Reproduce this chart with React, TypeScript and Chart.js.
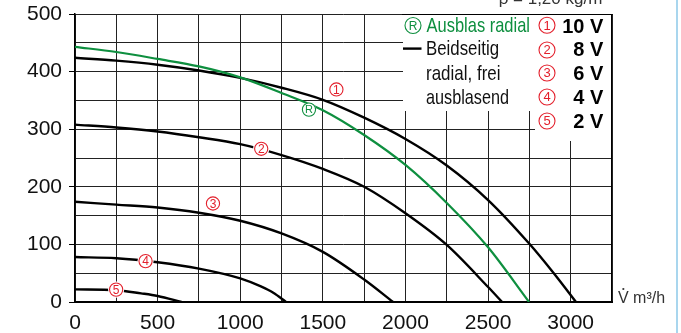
import React, { useEffect, useRef } from "react";
import { Chart, registerables } from "chart.js";
Chart.register(...registerables);

// Volumenstrom (m³/h) und Druck (Pa) je Kennlinie
const flow10 = [0, 250, 500, 750, 1000, 1250, 1500, 1750, 2000, 2250, 2500, 2750, 2900, 3032];
const p10 = [424, 419, 412, 402, 389, 372, 351, 320, 283, 237, 177, 101, 49, 0];
const flow8 = [0, 250, 500, 750, 1000, 1250, 1500, 1750, 2000, 2250, 2500, 2585];
const p8 = [308, 303, 296, 286, 274, 255, 231, 200, 154, 99, 26, 0];
const flow6 = [0, 250, 500, 750, 1000, 1250, 1500, 1750, 1925];
const p6 = [174, 169, 164, 155, 141, 119, 87, 39, 0];
const flow4 = [0, 250, 500, 750, 1000, 1125, 1200, 1277];
const p4 = [78, 76, 69, 58, 41, 27, 16, 0];
const flow2 = [0, 250, 400, 500, 645];
const p2 = [22, 20.5, 15, 10.5, 0];
const flowR = [0, 250, 500, 750, 1000, 1250, 1500, 1750, 2000, 2250, 2500, 2748];
const pR = [443, 434, 422, 409, 390, 363, 333, 290, 238, 172, 95, 0];

// Kurvenmarken
const markTexts = ["1", "2", "3", "4", "5"];
const markFlow = [1582, 1127, 835, 427, 249];
const markP = [369, 266, 171, 71, 21.5];
const markRFlow = 1416;
const markRP = 334;

// Legende
const voltages = ["10 V", "8 V", "6 V", "4 V", "2 V"];
const legendGreen = "Ausblas radial";
const legendBlack = ["Beidseitig", "radial, frei", "ausblasend"];
const densityText = "ρ = 1,20 kg/m³";
const xTitle = "V m³/h";

const xMax = 3250;
const yMax = 500;

const RED = "#e3202c";
const GREEN = "#0e8f3f";
const FONT = "'Liberation Sans', Arial, sans-serif";

function pts(f: number[], p: number[]) {
  return f.map((v, i) => ({ x: v, y: p[i] }));
}

function circled(ctx: CanvasRenderingContext2D, cx: number, cy: number, r: number, txt: string, color: string, size: number, gap: number) {
  ctx.fillStyle = "#fff";
  ctx.beginPath();
  ctx.arc(cx, cy, r + gap, 0, Math.PI * 2);
  ctx.fill();
  ctx.strokeStyle = color;
  ctx.lineWidth = 1.1;
  ctx.beginPath();
  ctx.arc(cx, cy, r, 0, Math.PI * 2);
  ctx.stroke();
  ctx.fillStyle = color;
  ctx.font = `${size}px ${FONT}`;
  ctx.textAlign = "center";
  ctx.textBaseline = "middle";
  ctx.fillText(txt, cx, cy + 0.8);
}

const overlay = {
  id: "overlay",
  afterDatasetsDraw(chart: any) {
    const { ctx, chartArea: a, scales } = chart;
    const x = scales.x;
    const y = scales.y;
    ctx.save();
    // white legend box
    ctx.fillStyle = "#fff";
    ctx.fillRect(a.right - 209, a.top + 1, 208, 96);
    ctx.fillRect(a.right - 77, a.top + 1, 76, 126);

    // curve marks
    for (let i = 0; i < markTexts.length; i++) {
      circled(ctx, x.getPixelForValue(markFlow[i]), y.getPixelForValue(markP[i]), 6.6, markTexts[i], RED, 12, 1.5);
    }
    circled(ctx, x.getPixelForValue(markRFlow), y.getPixelForValue(markRP), 6.6, "R", GREEN, 11, 0.5);

    // legend left column
    const L = a.right - 209;
    const T = a.top;
    circled(ctx, L + 10, T + 11.5, 8, "R", GREEN, 12, 0);
    ctx.textAlign = "left";
    ctx.textBaseline = "alphabetic";
    ctx.fillStyle = GREEN;
    ctx.font = `21px ${FONT}`;
    ctx.fillText(legendGreen, L + 23.5, T + 18, 103.5);
    ctx.strokeStyle = "#000";
    ctx.lineWidth = 2.4;
    ctx.beginPath();
    ctx.moveTo(L, T + 34.6);
    ctx.lineTo(L + 18.5, T + 34.6);
    ctx.stroke();
    ctx.fillStyle = "#111";
    const widths = [73, 74.5, 83];
    const bases = [41.3, 65.6, 89.6];
    for (let i = 0; i < legendBlack.length; i++) {
      ctx.fillText(legendBlack[i], L + 23, T + bases[i], widths[i]);
    }

    // legend right column
    const cyList = [11.3, 36, 59, 83, 107];
    const baseList = [18.6, 42, 66.3, 89.6, 114];
    for (let i = 0; i < voltages.length; i++) {
      circled(ctx, a.right - 65, T + cyList[i], 8, markTexts[i], RED, 13, 0);
      ctx.fillStyle = "#000";
      ctx.font = `bold 20px ${FONT}`;
      ctx.textAlign = "right";
      ctx.textBaseline = "alphabetic";
      ctx.fillText(voltages[i], a.right - 8.7, T + baseList[i]);
    }

    // redraw borders over box
    ctx.strokeStyle = "#000";
    ctx.lineWidth = 1;
    ctx.beginPath();
    ctx.moveTo(a.right - 210, a.top + 0.5);
    ctx.lineTo(a.right + 0.5, a.top + 0.5);
    ctx.moveTo(a.right - 0.5, a.top);
    ctx.lineTo(a.right - 0.5, a.bottom);
    ctx.stroke();
    ctx.restore();
  },
  afterDraw(chart: any) {
    const { ctx, chartArea: a } = chart;
    ctx.save();
    ctx.fillStyle = "#333";
    ctx.font = `17px ${FONT}`;
    ctx.textAlign = "right";
    ctx.textBaseline = "alphabetic";
    ctx.fillText(densityText, a.right - 4, 3.5);
    // x-axis title
    ctx.textAlign = "left";
    ctx.font = `16px ${FONT}`;
    ctx.fillStyle = "#333";
    const tx = a.right + 6;
    const ty = a.bottom + 1;
    ctx.fillText(xTitle, tx, ty);
    const vw = ctx.measureText("V").width;
    ctx.beginPath();
    ctx.arc(tx + vw / 2, ty - 14, 1.1, 0, Math.PI * 2);
    ctx.fill();
    // right light blue edge
    ctx.fillStyle = "#a9d6ee";
    ctx.fillRect(676, 0, 2, 333);
    ctx.restore();
  },
};

export default function App() {
  const ref = useRef<HTMLCanvasElement | null>(null);
  useEffect(() => {
    document.body.style.margin = "0";
    const canvas = ref.current;
    if (!canvas) return;
    const line = (f: number[], p: number[], color: string, w: number) => ({
      data: pts(f, p),
      showLine: true,
      borderColor: color,
      backgroundColor: color,
      borderWidth: w,
      pointRadius: 0,
      cubicInterpolationMode: "monotone" as const,
      fill: false,
    });
    const chart = new Chart(canvas, {
      type: "scatter",
      data: {
        datasets: [
          line(flowR, pR, GREEN, 2.2),
          line(flow10, p10, "#000", 2.4),
          line(flow8, p8, "#000", 2.4),
          line(flow6, p6, "#000", 2.4),
          line(flow4, p4, "#000", 2.4),
          line(flow2, p2, "#000", 2.4),
        ],
      },
      options: {
        animation: false,
        responsive: false,
        maintainAspectRatio: false,
        layout: { padding: { top: 14, right: 69, left: 0, bottom: 0 } },
        plugins: { legend: { display: false }, tooltip: { enabled: false } },
        scales: {
          x: {
            type: "linear",
            min: 0,
            max: xMax,
            afterFit: (s: any) => {
              s.height = 31;
              s.paddingLeft = 0;
              s.paddingRight = 0;
            },
            ticks: {
              stepSize: 250,
              autoSkip: false,
              maxRotation: 0,
              padding: 9,
              color: "#111",
              font: { size: 21, family: FONT },
              callback: (v: any) => (v % 500 === 0 && v <= 3000 ? String(v) : ""),
            },
            grid: { color: "#222", lineWidth: 1, drawTicks: false },
            border: { color: "#000", width: 2 },
          },
          y: {
            type: "linear",
            min: 0,
            max: yMax,
            afterFit: (s: any) => {
              s.width = 75;
              s.paddingTop = 0;
              s.paddingBottom = 0;
            },
            ticks: {
              stepSize: 50,
              autoSkip: false,
              padding: 7,
              color: "#111",
              font: { size: 21, family: FONT },
              callback: (v: any) => (v % 100 === 0 ? String(v) : ""),
            },
            grid: {
              color: "#222",
              lineWidth: 1,
              tickLength: 6,
              tickColor: (c: any) => (c.tick && c.tick.value % 100 === 0 ? "#000" : "rgba(0,0,0,0)"),
            },
            border: { color: "#000", width: 1.5 },
          },
        },
      },
      plugins: [overlay],
    } as any);
    return () => chart.destroy();
  }, []);
  return (
    <div style={{ position: "fixed", left: 0, top: 0, width: 681, height: 333, background: "#fff" }}>
      <canvas ref={ref} width={681} height={333} />
    </div>
  );
}
